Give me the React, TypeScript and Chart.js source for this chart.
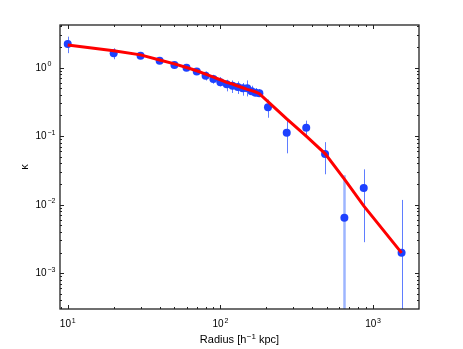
import React, { useEffect, useRef } from "react";
import { Chart, registerables } from "chart.js";

Chart.register(...registerables);

// Radius [h^-1 kpc]
const radius = [10, 20, 30, 40, 50, 60, 70, 80, 90, 100, 110, 120, 130, 140, 150, 160, 170, 180, 205, 272, 365, 485, 649, 869, 1538];
// measured kappa
const kappa = [2.21, 1.62, 1.49, 1.25, 1.09, 0.99, 0.875, 0.76, 0.68, 0.61, 0.57, 0.54, 0.52, 0.5, 0.5, 0.45, 0.43, 0.42, 0.263, 0.112, 0.132, 0.0546, 0.00645, 0.0175, 0.00198];
const kappaHigh = [2.82, 1.91, 1.65, 1.36, 1.17, 1.06, 0.935, 0.875, 0.783, 0.726, 0.663, 0.648, 0.627, 0.594, 0.648, 0.542, 0.502, 0.485, 0.34, 0.17, 0.168, 0.0815, 0.0268, 0.0327, 0.0117];
const kappaLow = [1.62, 1.32, 1.34, 1.15, 1.02, 0.926, 0.81, 0.647, 0.58, 0.53, 0.449, 0.425, 0.411, 0.388, 0.379, 0.388, 0.388, 0.402, 0.185, 0.056, 0.1, 0.0277, 0.000001, 0.00283, 0.000001];
// model curve
const model = [2.13, 1.76, 1.53, 1.29, 1.13, 1.0, 0.896, 0.8, 0.725, 0.663, 0.606, 0.574, 0.537, 0.507, 0.48, 0.459, 0.44, 0.415, 0.318, 0.178, 0.1, 0.0555, 0.0235, 0.0096, 0.00198];

const xMajorTicks = [10, 100, 1000];
const xTickExp = ["1", "2", "3"];
const yMajorTicks = [1, 0.1, 0.01, 0.001];
const yTickExp = ["0", "\u22121", "\u22122", "\u22123"];

const X_MIN = 8.9;
const X_MAX = 2000;
const Y_MIN = 3.15e-4;
const Y_MAX = 4.17;

const FONT = "'Liberation Sans', Arial, sans-serif";

function minorTicks(min: number, max: number): number[] {
  const out: number[] = [];
  for (let e = -5; e <= 5; e++) {
    for (let m = 2; m <= 9; m++) {
      const v = m * Math.pow(10, e);
      if (v > min && v < max) out.push(v);
    }
  }
  return out;
}

const errorBarPlugin = {
  id: "errorBars",
  beforeDatasetsDraw(chart: any) {
    const { ctx, chartArea, scales } = chart;
    ctx.save();
    ctx.beginPath();
    ctx.rect(chartArea.left, chartArea.top, chartArea.right - chartArea.left, chartArea.bottom - chartArea.top);
    ctx.clip();
    for (let i = 0; i < radius.length; i++) {
      const x = scales.x.getPixelForValue(radius[i]);
      const y1 = scales.y.getPixelForValue(kappaHigh[i]);
      const y2 = scales.y.getPixelForValue(kappaLow[i]);
      const wide = kappaLow[i] < 1e-5 && radius[i] < 1000;
      ctx.strokeStyle = wide ? "rgba(140,168,255,0.85)" : "rgb(95,125,255)";
      ctx.lineWidth = wide ? 2.5 : 1;
      ctx.beginPath();
      ctx.moveTo(Math.round(x) + 0.5, y1);
      ctx.lineTo(Math.round(x) + 0.5, y2);
      ctx.stroke();
    }
    ctx.restore();
  },
};

function drawPow(ctx: CanvasRenderingContext2D, exp: string, x: number, baseline: number, align: "center" | "left") {
  ctx.font = `10px ${FONT}`;
  const wBase = ctx.measureText("10").width;
  ctx.font = `7px ${FONT}`;
  const wExp = ctx.measureText(exp).width;
  const total = wBase + 0.8 + wExp;
  const x0 = align === "center" ? x - total / 2 : x;
  ctx.textAlign = "left";
  ctx.textBaseline = "alphabetic";
  ctx.font = `10px ${FONT}`;
  ctx.fillText("10", x0, baseline);
  ctx.font = `7px ${FONT}`;
  ctx.fillText(exp, x0 + wBase + 0.8, baseline - 4.5);
}

const framePlugin = {
  id: "frameTicks",
  afterDatasetsDraw(chart: any) {
    const { ctx, chartArea, scales } = chart;
    const { left, right, top, bottom } = chartArea;
    ctx.save();
    ctx.strokeStyle = "#222";
    ctx.lineWidth = 1;
    const majLen = 4;
    const minLen = 2;
    const drawX = (v: number, len: number) => {
      const px = Math.round(scales.x.getPixelForValue(v)) + 0.5;
      ctx.beginPath();
      ctx.moveTo(px, bottom);
      ctx.lineTo(px, bottom - len);
      ctx.moveTo(px, top);
      ctx.lineTo(px, top + len);
      ctx.stroke();
    };
    const drawY = (v: number, len: number) => {
      const py = Math.round(scales.y.getPixelForValue(v)) + 0.5;
      ctx.beginPath();
      ctx.moveTo(left, py);
      ctx.lineTo(left + len, py);
      ctx.moveTo(right, py);
      ctx.lineTo(right - len, py);
      ctx.stroke();
    };
    xMajorTicks.forEach((v) => drawX(v, majLen));
    minorTicks(X_MIN, X_MAX).forEach((v) => drawX(v, minLen));
    yMajorTicks.forEach((v) => drawY(v, majLen));
    minorTicks(Y_MIN, Y_MAX).forEach((v) => drawY(v, minLen));
    ctx.lineWidth = 1.3;
    ctx.strokeRect(left, top, right - left, bottom - top);

    ctx.fillStyle = "#000";
    xMajorTicks.forEach((v, i) => {
      const px = scales.x.getPixelForValue(v);
      drawPow(ctx, xTickExp[i], px, bottom + 18, "center");
    });
    yMajorTicks.forEach((v, i) => {
      const py = scales.y.getPixelForValue(v);
      drawPow(ctx, yTickExp[i], 35.5, py + 3, "left");
    });

    const cx = (left + right) / 2;
    const base = bottom + 34;
    ctx.font = `11px ${FONT}`;
    const p1 = "Radius [h";
    const p3 = " kpc]";
    const w1 = ctx.measureText(p1).width;
    const w3 = ctx.measureText(p3).width;
    ctx.font = `8px ${FONT}`;
    const p2 = "\u22121";
    const w2 = ctx.measureText(p2).width;
    const tot = w1 + w2 + w3 + 0.5;
    let xx = cx - tot / 2;
    ctx.textAlign = "left";
    ctx.textBaseline = "alphabetic";
    ctx.font = `11px ${FONT}`;
    ctx.fillText(p1, xx, base);
    xx += w1 + 0.5;
    ctx.font = `8px ${FONT}`;
    ctx.fillText(p2, xx, base - 4.5);
    xx += w2;
    ctx.font = `11px ${FONT}`;
    ctx.fillText(p3, xx, base);

    ctx.save();
    ctx.translate(24.5, (top + bottom) / 2);
    ctx.rotate(-Math.PI / 2);
    ctx.textAlign = "center";
    ctx.textBaseline = "middle";
    ctx.font = `11px ${FONT}`;
    ctx.fillText("\u03ba", 0, 0);
    ctx.restore();

    ctx.restore();
  },
};

export default function App() {
  const ref = useRef<HTMLCanvasElement | null>(null);
  useEffect(() => {
    if (!ref.current) return;
    const chart = new Chart(ref.current, {
      type: "scatter",
      data: {
        datasets: [
          {
            type: "line",
            label: "model",
            data: radius.map((r, i) => ({ x: r, y: model[i] })),
            borderColor: "rgb(255,0,0)",
            borderWidth: 3,
            pointRadius: 0,
            fill: false,
            tension: 0,
            order: 0,
          } as any,
          {
            type: "scatter",
            label: "kappa",
            data: radius.map((r, i) => ({ x: r, y: kappa[i] })),
            backgroundColor: "rgb(30,65,255)",
            borderWidth: 0,
            pointRadius: 4,
            order: 1,
          },
        ],
      },
      options: {
        responsive: false,
        animation: false,
        layout: { padding: { left: 60, top: 25, right: 44, bottom: 40 } },
        plugins: { legend: { display: false }, tooltip: { enabled: false } },
        scales: {
          x: { type: "logarithmic", min: X_MIN, max: X_MAX, display: false },
          y: { type: "logarithmic", min: Y_MIN, max: Y_MAX, display: false },
        },
      },
      plugins: [errorBarPlugin, framePlugin],
    });
    return () => chart.destroy();
  }, []);
  return (
    <div style={{ position: "fixed", left: 0, top: 0, width: 463, height: 349, background: "#fff" }}>
      <canvas ref={ref} width={463} height={349} style={{ display: "block" }} />
    </div>
  );
}
